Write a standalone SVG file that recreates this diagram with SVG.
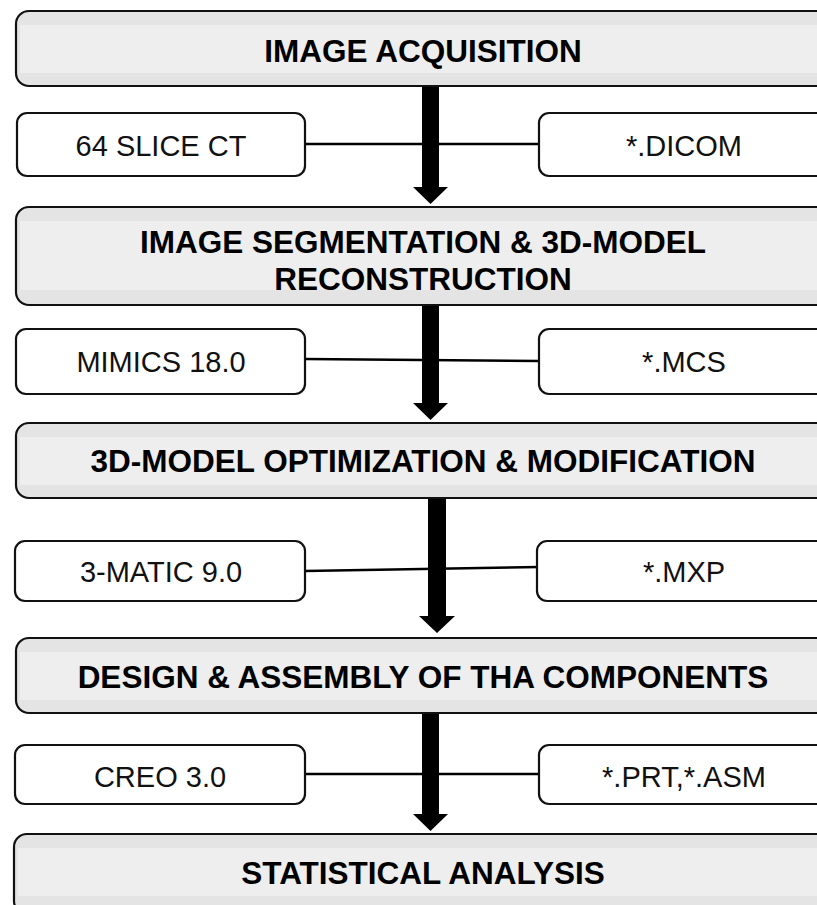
<svg xmlns="http://www.w3.org/2000/svg" width="817" height="905" viewBox="0 0 817 905">
  <style>
    .hdr { stroke: #111; stroke-width: 2.2; fill: #e4e4e4; }
    .band { fill: #eeeeee; }
    .box { stroke: #111; stroke-width: 2.2; fill: #ffffff; }
    .htxt { font-family: "Liberation Sans", Arial, sans-serif; font-weight: bold; font-size: 31.5px; fill: #000; text-anchor: middle; }
    .btxt { font-family: "Liberation Sans", Arial, sans-serif; font-size: 29px; fill: #111; text-anchor: middle; }
    .link { stroke: #000; stroke-width: 2.5; fill: none; }
    .arrow { fill: #000; }
  </style>
  <rect width="817" height="905" fill="#ffffff"/>

  <!-- connectors: side links and flow arrows -->
  <g id="connectors">
    <line class="link" x1="305" y1="144" x2="539" y2="144"/>
    <line class="link" x1="305" y1="359" x2="539" y2="361"/>
    <line class="link" x1="305" y1="571" x2="539" y2="567"/>
    <line class="link" x1="305" y1="774" x2="539" y2="774"/>
    <polygon class="arrow" points="422,86 439,86 439,187 448,187 430.5,204 413,187 422,187"/>
    <polygon class="arrow" points="422,305 439,305 439,403 448,403 430.5,420 413,403 422,403"/>
    <polygon class="arrow" points="428,498 446,498 446,616 455,616 437,633 419,616 428,616"/>
    <polygon class="arrow" points="422,713 439,713 439,814 448,814 430.5,831 413,814 422,814"/>
  </g>

  <!-- stage headers -->
  <g id="stage-acquisition">
    <rect class="hdr" x="16" y="11" width="814" height="75" rx="13"/>
    <rect class="band" x="20" y="25" width="808" height="48"/>
    <text class="htxt" x="423" y="62">IMAGE ACQUISITION</text>
  </g>
  <g id="stage-segmentation">
    <rect class="hdr" x="16" y="207" width="814" height="98" rx="13"/>
    <rect class="band" x="20" y="221" width="808" height="69"/>
    <text class="htxt" x="423" y="253">IMAGE SEGMENTATION &amp; 3D-MODEL</text>
    <text class="htxt" x="423" y="290">RECONSTRUCTION</text>
  </g>
  <g id="stage-optimization">
    <rect class="hdr" x="16" y="423" width="814" height="75" rx="13"/>
    <rect class="band" x="20" y="437" width="808" height="48"/>
    <text class="htxt" x="423" y="472">3D-MODEL OPTIMIZATION &amp; MODIFICATION</text>
  </g>
  <g id="stage-design">
    <rect class="hdr" x="16" y="638" width="814" height="75" rx="13"/>
    <rect class="band" x="20" y="652" width="808" height="48"/>
    <text class="htxt" x="423" y="688">DESIGN &amp; ASSEMBLY OF THA COMPONENTS</text>
  </g>
  <g id="stage-statistics">
    <rect class="hdr" x="14" y="834" width="816" height="80" rx="13"/>
    <rect class="band" x="18" y="848" width="810" height="48"/>
    <text class="htxt" x="423" y="884">STATISTICAL ANALYSIS</text>
  </g>

  <!-- tools (left) and file formats (right) -->
  <g id="tool-ct">
    <rect class="box" x="17" y="113" width="288" height="63" rx="10"/>
    <text class="btxt" x="161" y="156">64 SLICE CT</text>
  </g>
  <g id="format-dicom">
    <rect class="box" x="539" y="113" width="288" height="63" rx="10"/>
    <text class="btxt" x="684" y="156">*.DICOM</text>
  </g>
  <g id="tool-mimics">
    <rect class="box" x="16" y="329" width="289" height="65" rx="10"/>
    <text class="btxt" x="161" y="372">MIMICS 18.0</text>
  </g>
  <g id="format-mcs">
    <rect class="box" x="539" y="329" width="288" height="65" rx="10"/>
    <text class="btxt" x="684" y="372">*.MCS</text>
  </g>
  <g id="tool-3matic">
    <rect class="box" x="15" y="541" width="290" height="60" rx="10"/>
    <text class="btxt" x="161" y="582">3-MATIC 9.0</text>
  </g>
  <g id="format-mxp">
    <rect class="box" x="537" y="541" width="290" height="60" rx="10"/>
    <text class="btxt" x="684" y="582">*.MXP</text>
  </g>
  <g id="tool-creo">
    <rect class="box" x="15" y="745" width="290" height="59" rx="10"/>
    <text class="btxt" x="160" y="787">CREO 3.0</text>
  </g>
  <g id="format-prt-asm">
    <rect class="box" x="539" y="745" width="288" height="59" rx="10"/>
    <text class="btxt" x="684" y="787">*.PRT,*.ASM</text>
  </g>
</svg>
